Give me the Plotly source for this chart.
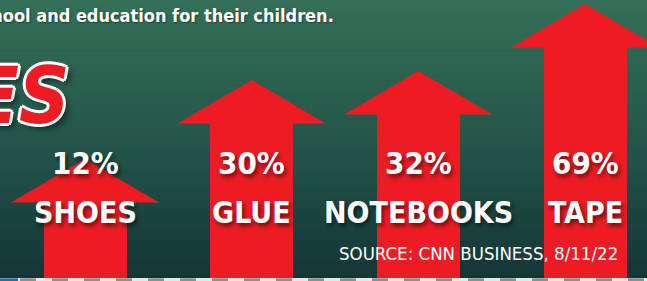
import plotly.graph_objects as go

# ---- data ----
categories = ["SHOES", "GLUE", "NOTEBOOKS", "TAPE"]
percent_values = [12, 30, 32, 69]
percent_labels = ["12%", "30%", "32%", "69%"]
# height of each arrow tip on the graphic's own (non-proportional) scale
arrow_tips = [119, 198, 207, 274]

source_text = "SOURCE: CNN BUSINESS, 8/11/22"
intro_text = "school and education for their children."
title_fragment = "PRICES"

# ---- styling ----
RED = "#ed1c24"
HEAD_H = 43
HEAD_HALF = 0.444
SHAFT_W = 0.498
COND = "DejaVu Sans Condensed, Liberation Sans Narrow, sans-serif"
W, H = 647, 281

xs = list(range(len(categories)))
shaft_tops = [t - HEAD_H for t in arrow_tips]

fig = go.Figure()

# background gradient bands
top_c = (52, 111, 87)
mid_c = (36, 86, 74)
bot_c = (20, 54, 54)
nb = 56
for k in range(nb):
    f = k / (nb - 1)
    if f < 0.5:
        g = f / 0.5
        c = [round(top_c[j] + (mid_c[j] - top_c[j]) * g) for j in range(3)]
    else:
        g = (f - 0.5) / 0.5
        c = [round(mid_c[j] + (bot_c[j] - mid_c[j]) * g) for j in range(3)]
    fig.add_shape(type="rect", xref="paper", yref="paper",
                  x0=0, x1=1, y0=1 - (k + 1) / nb - 0.002, y1=1 - k / nb,
                  fillcolor=f"rgb({c[0]},{c[1]},{c[2]})", line_width=0, layer="below")

# arrow shafts
fig.add_trace(go.Bar(x=xs, y=shaft_tops, width=SHAFT_W, marker=dict(color=RED, line_width=0),
                     hoverinfo="skip", showlegend=False))

# arrow heads
hx, hy = [], []
for x, tip, st in zip(xs, arrow_tips, shaft_tops):
    b = st - 0.5
    hx += [x - HEAD_HALF, x, x + HEAD_HALF, x - HEAD_HALF, None]
    hy += [b, tip, b, b, None]
fig.add_trace(go.Scatter(x=hx, y=hy, mode="lines", fill="toself", fillcolor=RED,
                         line=dict(width=0, color=RED), hoverinfo="skip", showlegend=False))

shadow = "2px 3px 4px rgba(0,0,0,0.55)"
for x, p, c in zip(xs, percent_labels, categories):
    fig.add_annotation(x=x, y=115, xref="x", yref="y", text=f"<b>{p}</b>", showarrow=False,
                       xanchor="center", yanchor="middle",
                       font=dict(family=COND, size=31, color="white", shadow=shadow))
    fig.add_annotation(x=x, y=66, xref="x", yref="y", text=f"<b>{c}</b>", showarrow=False,
                       xanchor="center", yanchor="middle",
                       font=dict(family=COND, size=30, color="white", shadow=shadow))

fig.add_annotation(x=620 / W, y=1 - 253 / H, xref="paper", yref="paper", text=source_text,
                   showarrow=False, xanchor="right", yanchor="middle",
                   font=dict(family=COND, size=18.5, color="white"))

fig.add_annotation(x=336 / W, y=1 - 15 / H, xref="paper", yref="paper", text=f"<b>{intro_text}</b>",
                   showarrow=False, xanchor="right", yanchor="middle",
                   font=dict(family=COND, size=18, color="white", shadow="1px 1px 2px rgba(0,0,0,0.4)"))

outline = ", ".join(f"{dx}px {dy}px 0 #ffffff" for dx, dy in
                    [(-3, 0), (3, 0), (0, -3), (0, 3), (-2, -2), (2, -2), (-2, 2), (2, 2)])
fig.add_annotation(x=72 / W, y=1 - 96 / H, xref="paper", yref="paper", text=f"<b><i>{title_fragment}</i></b>",
                   showarrow=False, xanchor="right", yanchor="middle",
                   font=dict(family=COND, size=78, color=RED,
                             shadow=outline + ", 5px 5px 6px rgba(0,0,0,0.5)"))

# bottom strip with dashes
fig.add_shape(type="rect", xref="paper", yref="y", x0=0, x1=1, y0=-3.5, y1=0,
              fillcolor="#e6e6e6", line_width=0, layer="above")
fig.add_shape(type="line", xref="paper", yref="y", x0=20 / W, x1=1, y0=-1.8, y1=-1.8,
              line=dict(color="#8f8f8f", width=3, dash="16px,16px"), layer="above")
fig.add_shape(type="line", xref="paper", yref="y", x0=0, x1=18 / W, y0=-1.8, y1=-1.8,
              line=dict(color="#1f6fb0", width=3), layer="above")

fig.update_layout(
    width=W, height=H, autosize=False,
    margin=dict(l=0, r=0, t=0, b=0),
    paper_bgcolor="rgb(36,86,74)", plot_bgcolor="rgba(0,0,0,0)",
    xaxis=dict(range=[-0.51, 3.372], visible=False, fixedrange=True),
    yaxis=dict(range=[-3, 278], visible=False, fixedrange=True),
    bargap=0,
)

fig.write_html("out.html", config={"displayModeBar": False},
               post_script="document.body.style.margin='0px';document.body.style.overflow='hidden';")
